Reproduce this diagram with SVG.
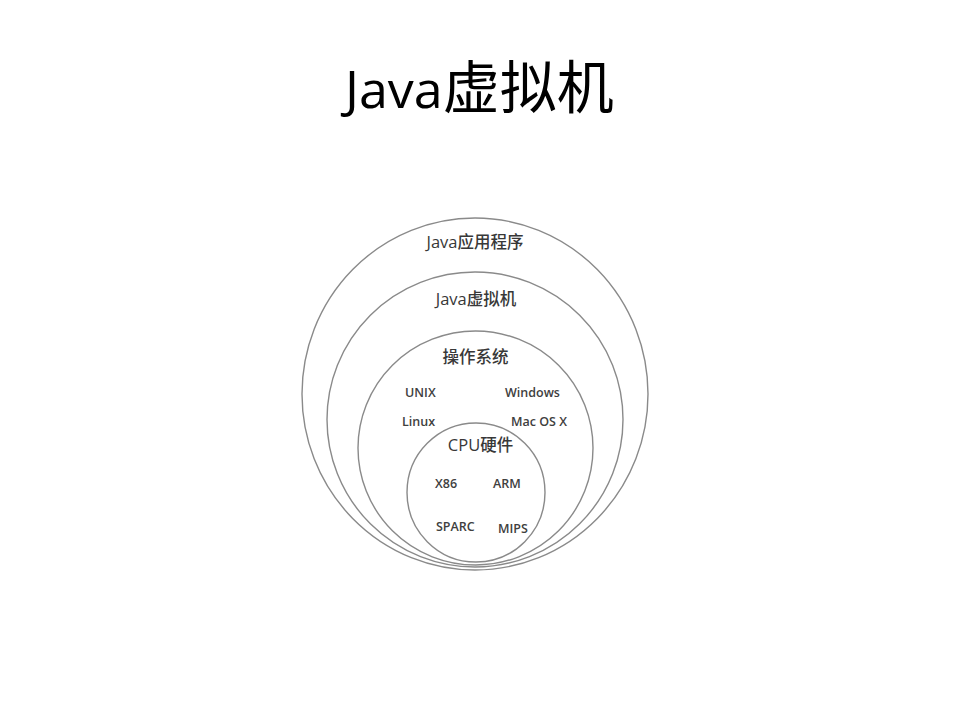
<svg xmlns="http://www.w3.org/2000/svg" width="960" height="720" viewBox="0 0 960 720">
  <style>
    .ring { fill: none; stroke: #8a8a8a; stroke-width: 1.4; }
    .lbl { font-family: "Open Sans", "Noto Sans CJK SC", sans-serif; fill: #383838; }
    .big { font-size: 16.5px; text-anchor: middle; font-weight: 500; }
    .small { font-size: 12.5px; font-weight: 600; fill: #404040; }
    .title { font-family: "Open Sans", "Noto Sans CJK SC", sans-serif; fill: #000000; }
  </style>
  <rect x="0" y="0" width="960" height="720" fill="#ffffff"/>
  <g id="title">
    <text class="title" x="345" y="108"><tspan font-size="52">Java</tspan><tspan font-family="Noto Sans CJK SC, sans-serif" font-size="57">虚拟机</tspan></text>
  </g>
  <g id="connectors"></g>
  <g id="java-app">
    <ellipse class="ring" cx="475" cy="394" rx="173" ry="176"/>
    <text class="lbl big" x="475" y="248">Java应用程序</text>
  </g>
  <g id="jvm">
    <ellipse class="ring" cx="475" cy="419.5" rx="148" ry="147.5"/>
    <text class="lbl big" x="476" y="305">Java虚拟机</text>
  </g>
  <g id="os">
    <ellipse class="ring" cx="475.5" cy="448" rx="117.5" ry="117"/>
    <text class="lbl big" x="475.5" y="363">操作系统</text>
    <text class="lbl small" x="405" y="397">UNIX</text>
    <text class="lbl small" x="505" y="397">Windows</text>
    <text class="lbl small" x="402" y="426">Linux</text>
    <text class="lbl small" x="511" y="426">Mac OS X</text>
  </g>
  <g id="cpu">
    <ellipse class="ring" cx="476" cy="492.5" rx="69" ry="69.5"/>
    <text class="lbl big" x="480.5" y="451">CPU硬件</text>
    <text class="lbl small" x="435" y="488">X86</text>
    <text class="lbl small" x="493" y="488">ARM</text>
    <text class="lbl small" x="436" y="531">SPARC</text>
    <text class="lbl small" x="498" y="533">MIPS</text>
  </g>
</svg>
